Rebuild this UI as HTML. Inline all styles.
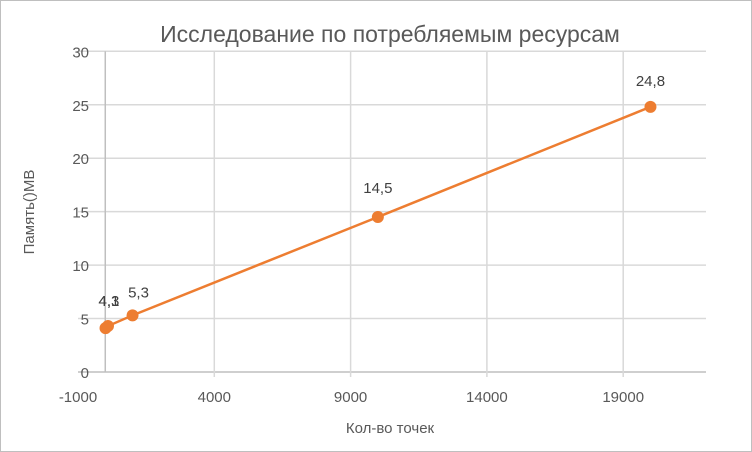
<!DOCTYPE html>
<html><head><meta charset="utf-8"><style>
html,body{margin:0;padding:0;background:#fff}
svg{display:block;font-family:"Liberation Sans",sans-serif}
</style></head><body>
<svg width="752" height="452" viewBox="0 0 752 452">
<rect x="0.5" y="0.5" width="751" height="451" fill="#fff" stroke="#bfbfbf"/>
<text x="390" y="42" font-size="23" fill="#595959" text-anchor="middle">Исследование по потребляемым ресурсам</text>
<g id="grid"></g>
<g id="marks"></g>
<text x="390" y="433" font-size="15" fill="#595959" text-anchor="middle">Кол-во точек</text>
<text transform="translate(34,212) rotate(-90)" font-size="15" fill="#595959" text-anchor="middle">Память()MB</text>
</svg>
<script>
const xTicks=[-1000,4000,9000,14000,19000];
const yTicks=[0,5,10,15,20,25,30];
const xValues=[10,100,1000,10000,20000];
const yValues=[4.1,4.3,5.3,14.5,24.8];
const labels=["4,1","4,3","5,3","14,5","24,8"];
const NS="http://www.w3.org/2000/svg";
const X=v=>78+(v+1000)*0.02726;
const Y=v=>372-v*10.69;
const L=78,R=706;
function mk(t,a,p){const e=document.createElementNS(NS,t);for(const k in a)e.setAttribute(k,a[k]);p.appendChild(e);return e;}
const g=document.getElementById('grid'),m=document.getElementById('marks');
yTicks.forEach(v=>{
 const l=mk('line',{x1:L,x2:R,y1:Y(v),y2:Y(v),stroke:v===0?'#bfbfbf':'#d9d9d9','stroke-width':1.5},g);
 
 
 const t=mk('text',{x:89,y:Y(v)+6,'font-size':15,fill:'#595959','text-anchor':'end'},g);t.textContent=v;
 
 
});
xTicks.forEach(v=>{
 if(v>-1000){const l=mk('line',{x1:X(v),x2:X(v),y1:Y(30),y2:Y(0)+5,stroke:'#d9d9d9','stroke-width':1.5},g);
 
 }
 const t=mk('text',{x:X(v),y:402,'font-size':15,fill:'#595959','text-anchor':'middle'},g);t.textContent=v;
 
 
});
const ax=mk('line',{x1:X(0),x2:X(0),y1:Y(30),y2:Y(0),stroke:'#bfbfbf','stroke-width':1.5},g);


const pl=mk('polyline',{points:xValues.map((x,i)=>X(x)+','+Y(yValues[i])).join(' '),fill:'none',stroke:'#ED7D31','stroke-width':2.5},m);


xValues.forEach((x,i)=>{
 const c=mk('circle',{cx:X(x),cy:Y(yValues[i]),r:6,fill:'#ED7D31'},m);
 
 
 const t=mk('text',{x:X(x),y:Y(yValues[i])-(i==2?18:i==3?24:21),'font-size':15,fill:'#404040','text-anchor':'middle'},m);
 if(i<2){t.setAttribute('x',X(100)+1);t.setAttribute('y',Y(4.3)-20);}
 if(i==2){t.setAttribute('x',X(x)+6);}
 t.textContent=labels[i];
 
 
});
</script>
</body></html>
